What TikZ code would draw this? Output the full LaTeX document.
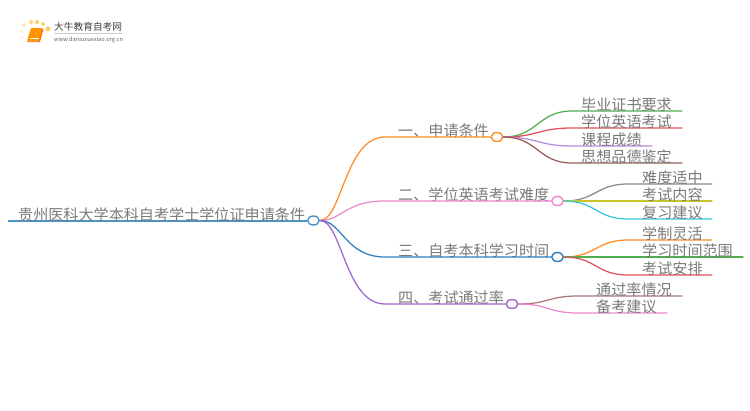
\documentclass[tikz,border=0pt]{standalone}
\usepackage{fontspec}
\setmainfont{Noto Sans CJK SC}
\usetikzlibrary{shapes.geometric,calc}
\definecolor{txt}{HTML}{7A7A7A}
\definecolor{cRoot}{HTML}{4A94C8}
\definecolor{cOr}{HTML}{FF8C24}
\definecolor{cPk}{HTML}{EE88D0}
\definecolor{cBl}{HTML}{2F7FBF}
\definecolor{cPu}{HTML}{A066CC}
\definecolor{cGr}{HTML}{4DB04F}
\definecolor{cRd}{HTML}{E2505A}
\definecolor{cLi}{HTML}{B48ADA}
\definecolor{cBr}{HTML}{955F55}
\definecolor{cGy}{HTML}{8A8A8A}
\definecolor{cOl}{HTML}{C6C62A}
\definecolor{cCy}{HTML}{30C8DA}
\definecolor{cRs}{HTML}{A87878}
\tikzset{
 lbl/.style={anchor=base west,inner sep=0pt,text=txt,font=\fontsize{15.1}{15}\selectfont},
 dot/.style={ellipse,draw=#1,fill=white,line width=1.4pt,minimum width=11.5pt,minimum height=9pt,inner sep=0pt},
 link/.style={line width=1.25pt,line cap=round},
}
\begin{document}
\begin{tikzpicture}[x=1pt,y=-1pt]
\useasboundingbox (0,0) rectangle (750,410);
% logo
\foreach \px/\py/\r/\c in {24/25/2/FFE6B0,31/22/2.1/FFD890,37/22/2.2/FFD070,43/24/2/FFCF70,48/29/2.4/FFCC60,22/31/1.5/FFEBC8,22/37/1.3/FFEBC8,23/42/1.2/FFF0D8}{
  \definecolor{tmpc}{HTML}{\c}
  \fill[tmpc] (\px,\py) circle (\r pt);
}
\fill[rounded corners=1pt,fill=orange!85!yellow] (31,28) -- (43,28) -- (39.5,41) -- (27,41) -- cycle;
\draw[white,line width=.6pt] (30,38.7) -- (38.5,38.7);
\draw[orange!70!red,line width=.9pt] (27,41.7) -- (39.5,41.7) -- (43,29);
\node[anchor=base west,inner sep=0pt,text=black!75,font=\fontsize{9.7}{10}\selectfont] (logotitle) at (54,30.5) {大牛教育自考网};
\draw[black!20,line width=.6pt] (54,33.5) -- (122,33.5);
\node[anchor=base west,inner sep=0pt,text=black!60,font=\fontsize{5.7}{6}\selectfont] (logourl) at (54,41) {www.daniuxuexiao.org.cn};
% root
\coordinate (rs) at (8,220.5);
\node[dot=cRoot] (root) at (313.5,220.5) {};
\draw[cRoot,line width=2pt] (rs) -- (root.west);
\node[lbl] (rootT) at (18,220) {贵州医科大学本科自考学士学位证申请条件};
% level 1
\node[dot=cOr] (a) at (497,137) {};
\node[dot=cPk] (b) at (557.5,201) {};
\node[dot=cBl] (c) at (557.5,257) {};
\node[dot=cPu] (d) at (512,304) {};
\node[lbl] (aT) at (398,136.5) {一、申请条件};
\node[lbl] (bT) at (398,200.5) {二、学位英语考试难度};
\node[lbl] (cT) at (398,256.5) {三、自考本科学习时间};
\node[lbl] (dT) at (398,303.5) {四、考试通过率};
\foreach \n/\col/\y in {a/cOr/137,b/cPk/201,c/cBl/257,d/cPu/304}{
  \coordinate (\n j) at (385,\y);
  \draw[link,\col] (root.east) .. controls (342,220.5) and (345,\y) .. (\n j) -- (\n.west);
}
% level 2: name/parent/colour/startx/endx/y/textx/text
\foreach \n/\p/\col/\sx/\ex/\y/\tx/\t in {
 a1/a/cGr/572/682/111/581/毕业证书要求,
 a2/a/cRd/572/682/128/581/学位英语考试,
 a3/a/cLi/572/652/146/581/课程成绩,
 a4/a/cBr/572/682/163/581/思想品德鉴定,
 b1/b/cGy/628/712/184/642/难度适中,
 b2/b/cOl/628/712/201/642/考试内容,
 b3/b/cCy/628/712/219/642/复习建议,
 c1/c/cOr/628/712/240/642/学制灵活,
 c2/c/cGr/628/743/257/642/学习时间范围,
 c3/c/cRd/628/712/275/642/考试安排,
 d1/d/cRs/578/682/296/596/通过率情况,
 d2/d/cPk/578/667/313/596/备考建议}{
  \coordinate (\n s) at (\sx,\y);
  \coordinate (\n e) at (\ex,\y);
  \coordinate (\n m) at ($(\p.east)!0.5!(\n s)$);
  \draw[link,\col] (\p.east) .. controls (\n m |- \p.east) and (\n m |- \n s) .. (\n s) -- (\n e);
  \node[lbl] (\n T) at (\tx,\y-1) {\t};
}
\end{tikzpicture}
\end{document}
